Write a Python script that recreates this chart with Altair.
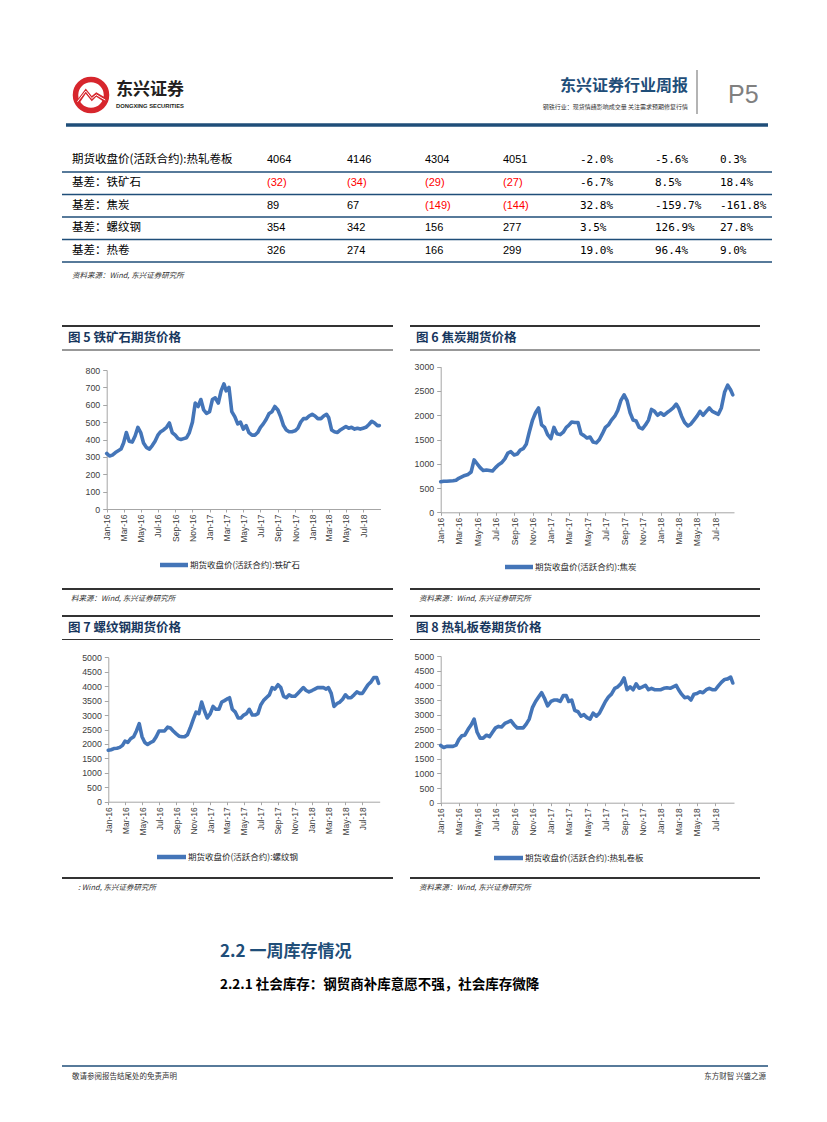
import math
import altair as alt
import pandas as pd

W, H = 811, 1106
OX = OY = 8

CJK = "Noto Sans CJK SC"
LAT = "Liberation Sans"
BLUE = "#1F4E79"
TITLE_BLUE = "#17375E"
LINE = "#4475B8"
RED = "#D7262D"

# ---------------- data ----------------
months = pd.date_range("2016-01-01", "2018-08-01", freq="MS")
DATES = []
for m in months:
    for d in (1, 11, 21):
        DATES.append(m.replace(day=d).strftime("%Y-%m-%d"))
DATES.append("2018-08-28")

iron_ore = [
    320, 305, 310, 325, 335, 345, 380, 440, 390, 385, 420, 470,
    440, 380, 355, 345, 365, 390, 425, 445, 455, 470, 495, 440,
    425, 405, 400, 405, 410, 440, 500, 610, 590, 630, 570, 550,
    560, 630, 640, 610, 680, 720, 680, 700, 560, 530, 490, 500,
    460, 480, 440, 425, 425, 440, 470, 490, 515, 550, 560, 590,
    570, 530, 480, 455, 445, 445, 450, 465, 500, 520, 520, 535,
    545, 535, 520, 520, 535, 545, 525, 455, 445, 440, 455, 465,
    475, 465, 470, 460, 465, 460, 465, 470, 485, 505, 495, 480,
    480,
]
coke = [
    630, 640, 640, 645, 650, 660, 700, 730, 760, 780, 830, 1080,
    1000, 920, 860, 870, 860, 850, 920, 980, 1020, 1100, 1220, 1250,
    1180, 1200, 1280, 1310, 1400, 1650, 1900, 2050, 2150, 1800, 1750, 1600,
    1520, 1750, 1620, 1600, 1650, 1750, 1790, 1860, 1850, 1850, 1620, 1580,
    1530, 1550, 1450, 1430, 1500, 1620, 1750, 1800, 1900, 1980, 2100, 2300,
    2420, 2300, 2050, 1900, 1880, 1750, 1720, 1800, 1900, 2120, 2080, 2000,
    2050, 2000, 2050, 2100, 2150, 2230, 2150, 1980, 1850, 1780, 1820, 1900,
    1980, 2080, 2000, 2080, 2150, 2080, 2050, 2020, 2150, 2480, 2620, 2520,
    2420,
]
rebar = [
    1780, 1800, 1840, 1850, 1880, 1950, 2100, 2050, 2180, 2250, 2450, 2700,
    2250, 2050, 1980, 2050, 2100, 2250, 2450, 2450, 2450, 2580, 2550, 2450,
    2350, 2270, 2250, 2250, 2320, 2550, 2850, 3100, 3050, 3450, 3150, 2900,
    3050, 3300, 3200, 3200, 3450, 3500, 3550, 3600, 3200, 3100, 2900, 2900,
    3000, 3050, 3200, 3000, 3000, 3050, 3350, 3500, 3600, 3700, 3950, 3900,
    4050, 3950, 3650, 3600, 3700, 3650, 3650, 3750, 3850, 3950, 3850, 3800,
    3850, 3900, 3950, 3950, 3950, 3900, 3950, 3750, 3300, 3400, 3450, 3550,
    3700, 3600, 3600, 3700, 3800, 3750, 3750, 3900, 4050, 4150, 4300, 4300,
    4100,
]
hot_coil = [
    1950, 1880, 1920, 1920, 1920, 1960, 2150, 2280, 2300, 2500, 2650, 2850,
    2400, 2200, 2200, 2300, 2250, 2400, 2550, 2600, 2580, 2700, 2750, 2800,
    2650, 2550, 2550, 2550, 2680, 2850, 3250, 3450, 3600, 3750, 3550, 3300,
    3450, 3500, 3500, 3450, 3650, 3650, 3450, 3500, 3150, 3100, 2950, 3000,
    2900, 2850, 3050, 2950, 3050, 3250, 3450, 3600, 3700, 3900, 3950, 4050,
    4250, 3850, 3950, 3850, 4050, 3900, 3950, 4000, 3850, 3900, 3850, 3850,
    3850, 3900, 3920, 3900, 3950, 4000, 3850, 3700, 3580, 3600, 3500, 3700,
    3720, 3780, 3750, 3850, 3900, 3850, 3850, 3980, 4100, 4200, 4220, 4280,
    4080,
]

table_rows = [
    ["期货收盘价(活跃合约):热轧卷板", "4064", "4146", "4304", "4051", "-2.0%", "-5.6%", "0.3%"],
    ["基差：铁矿石", "(32)", "(34)", "(29)", "(27)", "-6.7%", "8.5%", "18.4%"],
    ["基差：焦炭", "89", "67", "(149)", "(144)", "32.8%", "-159.7%", "-161.8%"],
    ["基差：螺纹钢", "354", "342", "156", "277", "3.5%", "126.9%", "27.8%"],
    ["基差：热卷", "326", "274", "166", "299", "19.0%", "96.4%", "9.0%"],
]

SOURCE = "资料来源：Wind, 东兴证券研究所"

# ---------------- helpers ----------------
one = pd.DataFrame({"k": [0]})


def cx(x):
    return x - OX


def cy(y):
    return y - OY


def txt(s, x, y, size=10, color="#000000", weight="normal", align="left",
        baseline="middle", font=CJK, style="normal"):
    return alt.Chart(one).mark_text(
        text=s, fontSize=size, color=color, fontWeight=weight, align=align,
        baseline=baseline, font=font, fontStyle=style,
    ).encode(x=alt.value(cx(x)), y=alt.value(cy(y)))


def hrule(x1, x2, y, color="#333333", w=1.0):
    return alt.Chart(one).mark_rule(color=color, strokeWidth=w).encode(
        x=alt.value(cx(x1)), x2=alt.value(cx(x2)), y=alt.value(cy(y)))


def vrule(x, y1, y2, color="#7F7F7F", w=1.0):
    return alt.Chart(one).mark_rule(color=color, strokeWidth=w).encode(
        x=alt.value(cx(x)), y=alt.value(cy(y1)), y2=alt.value(cy(y2)))


DT0 = alt.DateTime(year=2016, month=1, date=1, utc=True)
DT1 = alt.DateTime(year=2018, month=9, date=1, utc=True)
TICKS = []
for yr in (2016, 2017, 2018):
    for mo in (1, 3, 5, 7, 9, 11):
        if yr == 2018 and mo > 7:
            continue
        TICKS.append(alt.DateTime(year=yr, month=mo, date=1, utc=True))


def price_layer(values, ymax, ystep, x0, x1, y0, y1):
    df = pd.DataFrame({"date": DATES, "price": values})
    return alt.Chart(df).mark_line(
        color=LINE, strokeWidth=3.6, strokeJoin="round", strokeCap="round"
    ).encode(
        x=alt.X(
            "date:T",
            scale=alt.Scale(type="utc", domain=[DT0, DT1], range=[cx(x0), cx(x1)]),
            axis=alt.Axis(
                orient="bottom", offset=cy(y0) - H, values=TICKS, format="%b-%y",
                labelAngle=270, title=None, labelFontSize=8.5, labelPadding=2,
                tickSize=3, labelFlush=False, labelOverlap=False, labelBound=False,
            ),
        ),
        y=alt.Y(
            "price:Q",
            scale=alt.Scale(domain=[0, ymax], range=[cy(y0), cy(y1)], nice=False, zero=True),
            axis=alt.Axis(
                orient="left", offset=-cx(x0), values=list(range(0, ymax + 1, ystep)),
                format="d", title=None, labelFontSize=8.8, tickSize=4, labelPadding=3,
                labelOverlap=False, labelFlush=False,
            ),
        ),
    )


layers = []

# ---------------- header ----------------
layers.append(alt.Chart(one).mark_point(
    shape="circle", filled=False, color=RED, strokeWidth=5.5, size=math.pi * 17.5 ** 2, opacity=1
).encode(x=alt.value(cx(91)), y=alt.value(cy(95))))
layers.append(alt.Chart(one).mark_point(
    shape="M-0.95,0.3 L-0.35,-0.5 L0.05,0.0 L0.35,-0.25 L0.95,0.1 L0.95,0.45 L0.35,0.05 L0.05,0.35 L-0.35,-0.15 L-0.85,0.6 Z",
    filled=True, color=RED, size=900, opacity=1
).encode(x=alt.value(cx(91)), y=alt.value(cy(96))))
layers.append(alt.Chart(one).mark_point(
    shape="M-0.9,0.38 L-0.35,-0.33 L0.05,0.17 L0.35,-0.08 L0.95,0.27",
    filled=False, color="#FFFFFF", strokeWidth=1, size=900, opacity=1
).encode(x=alt.value(cx(91)), y=alt.value(cy(96))))
layers.append(txt("东兴证券", 116, 90, size=17, weight="bold", color="#231F20"))
layers.append(txt("DONGXING SECURITIES", 116, 106, size=5.8, weight="bold", color="#231F20", font=LAT))

layers.append(txt("东兴证券行业周报", 688, 86, size=16, weight="bold", color=BLUE, align="right"))
layers.append(txt("钢铁行业：现货情绪影响成交量 关注需求预期修复行情", 688, 107, size=6,
                  color="#333333", align="right"))
layers.append(vrule(697, 70, 114, color="#8C8C8C", w=1.3))
layers.append(txt("P5", 728, 95, size=25, color="#808080", font=LAT))
layers.append(hrule(66, 768, 125, color=BLUE, w=3.5))

# ---------------- table ----------------
col_x = [72, 267, 347, 425, 503, 580, 655, 720]
row_y = [160, 183, 206, 228, 251]
for r, row in enumerate(table_rows):
    for c, s in enumerate(row):
        if c == 0:
            font, size = CJK, 11.5
        elif c >= 5:
            font, size = "DejaVu Sans Mono", 11
        else:
            font, size = LAT, 11
        color = "#FF0000" if s.startswith("(") else "#000000"
        layers.append(txt(s, col_x[c], row_y[r], size=size, color=color, font=font))
for y in (172, 194.5, 217, 239.5, 262):
    layers.append(hrule(62, 772, y, color=BLUE, w=1.3))
layers.append(txt(SOURCE, 72, 276, size=7.5, color="#333333", style="italic"))

# ---------------- chart panels ----------------
panels = [
    ("图 5 铁矿石期货价格", "期货收盘价(活跃合约):铁矿石", "料来源：Wind, 东兴证券研究所",
     iron_ore, 800, 100, (106.7, 380.5, 509, 370), (62, 393), (326, 338, 350, 589, 599), (160, 188, 565)),
    ("图 6 焦炭期货价格", "期货收盘价(活跃合约):焦炭", SOURCE,
     coke, 3000, 500, (440.7, 734, 512.3, 366.7), (410, 760), (326, 338, 350, 589, 599), (505, 533, 567)),
    ("图 7 螺纹钢期货价格", "期货收盘价(活跃合约):螺纹钢", ": Wind, 东兴证券研究所",
     rebar, 5000, 500, (108.3, 379.7, 801.7, 657.3), (62, 393), (616, 628, 639.5, 878, 888), (157, 186, 857)),
    ("图 8 热轧板卷期货价格", "期货收盘价(活跃合约):热轧卷板", SOURCE,
     hot_coil, 5000, 500, (440.7, 734, 802.7, 656), (410, 760), (616, 628, 639.5, 878, 888), (494, 523, 858)),
]

for title, leg, src, vals, ymax, step, box, pbox, ys, lg in panels:
    x0, x1, y0, y1 = box
    px0, px1 = pbox
    top, ty, sub, bot, sy = ys
    layers.append(hrule(px0, px1, top, color="#333333", w=1.8))
    layers.append(txt(title, px0 + 6, ty, size=12.5, weight="bold", color=TITLE_BLUE))
    layers.append(hrule(px0, px1, sub, color="#333333", w=1.0))
    layers.append(price_layer(vals, ymax, step, x0, x1, y0, y1))
    layers.append(hrule(lg[0], lg[1], lg[2], color=LINE, w=4.5))
    layers.append(txt(leg, lg[1] + 2, lg[2], size=8.5, color="#262626"))
    layers.append(hrule(px0, px1, bot, color="#333333", w=1.8))
    src_x = px0 + 16 if src.startswith(":") else px0 + 9
    layers.append(txt(src, src_x, sy, size=7.5, color="#333333", style="italic"))

# ---------------- section headings and footer ----------------
layers.append(txt("2.2 一周库存情况", 220, 952, size=17, weight="bold", color=BLUE))
layers.append(txt("2.2.1 社会库存：钢贸商补库意愿不强，社会库存微降", 220, 985, size=13.5,
                  weight="bold", color="#000000"))
layers.append(hrule(62, 768, 1066, color=BLUE, w=1.5))
layers.append(txt("敬请参阅报告结尾处的免责声明", 72, 1077, size=7.5, color="#333333"))
layers.append(txt("东方财智 兴盛之源", 766, 1077, size=7.5, color="#333333", align="right"))

chart = (
    alt.layer(*layers)
    .resolve_scale(x="independent", y="independent")
    .properties(width=W, height=H, padding=0, autosize=alt.AutoSizeParams(type="none"))
    .configure_view(stroke=None)
    .configure_axis(
        grid=False, domainColor="#A6A6A6", tickColor="#A6A6A6", labelColor="#404040",
        labelFont=LAT, domainWidth=1,
    )
)

chart.save("out.html", embed_options={"renderer": "svg", "actions": False})
